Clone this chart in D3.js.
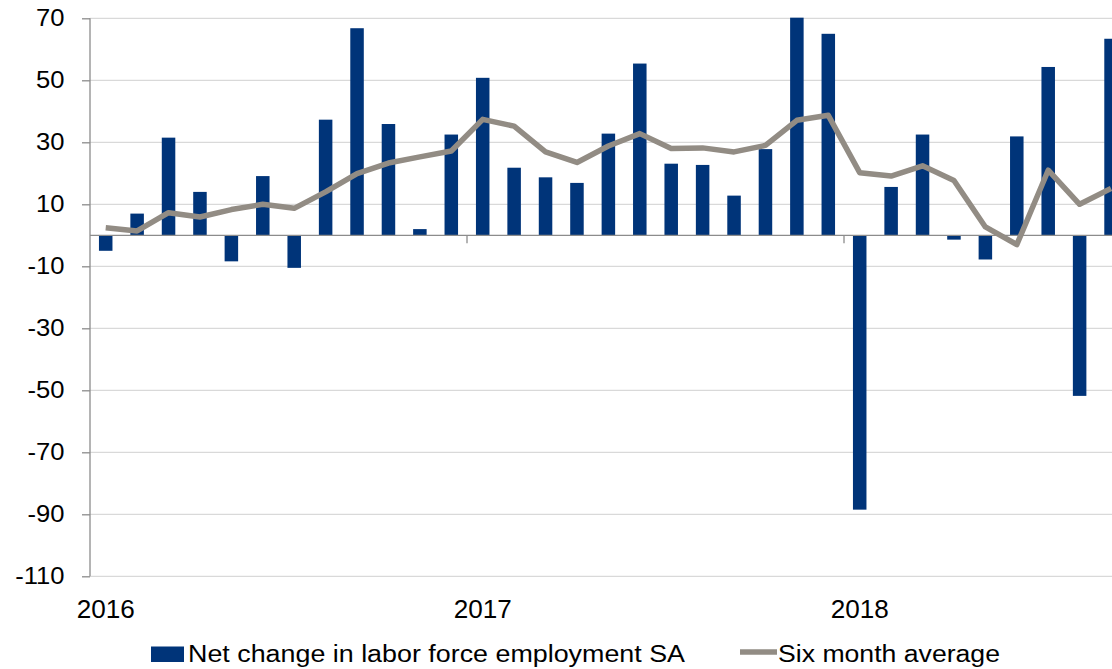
<!DOCTYPE html>
<html>
<head>
<meta charset="utf-8">
<script src="https://cdn.jsdelivr.net/npm/d3@7"></script>
<style>
	body { margin: 0; background: #fff; }
	svg { display: block; font-family: "Liberation Sans", Arial, sans-serif; }
</style>
</head>
<body>
<div id="main"></div>
<script>
// months Jan 2016 .. Sep 2018
var months = d3.timeMonths(new Date(2016, 0, 1), new Date(2018, 9, 1));

var net_change = [-5, 7, 31.5, 14, -8.4, 19.1, -10.5, 37.3, 66.8, 35.9, 2, 32.5,
	50.8, 21.8, 18.7, 16.9, 32.8, 55.4, 23.1, 22.7, 12.8, 27.8, 70.2, 65,
	-88.5, 15.6, 32.5, -1.4, -7.8, 31.9, 54.3, -51.8, 63.4];

var six_month_avg = [2.4, 1.4, 7.3, 5.9, 8.3, 10, 8.7, 14, 19.9, 23.3, 25.3, 27.2,
	37.4, 35.2, 26.9, 23.5, 28.8, 32.8, 28, 28.2, 26.9, 29, 37.1, 38.7,
	20.2, 19.1, 22.4, 17.7, 2.7, -3, 21, 10, 15.1];

var y_ticks = [70, 50, 30, 10, -10, -30, -50, -70, -90, -110];
var year_ticks = [new Date(2016, 0, 1), new Date(2017, 0, 1), new Date(2018, 0, 1)];

var series_names = ["Net change in labor force employment SA", "Six month average"];

var width = 1112, height = 669;
var margin = {left: 90, top: 18.3};
var month_w = 377 / 12;

var svg = d3.select("#main").append("svg")
	.attr("width", width).attr("height", height);

var x = d3.scaleBand()
	.domain(months.map(function (d) { return +d; }))
	.range([margin.left, margin.left + month_w * months.length])
	.paddingInner(0.57).paddingOuter(0.285);

var y = d3.scaleLinear().domain([-110, 70]).range([576.3, margin.top]);

function cx(d) { return x(+d) + x.bandwidth() / 2; }

// gridlines
svg.append("g").selectAll("line")
	.data(y_ticks).enter().append("line")
	.attr("x1", margin.left).attr("x2", width)
	.attr("y1", function (d) { return y(d); }).attr("y2", function (d) { return y(d); })
	.attr("stroke", "#d9d9d9").attr("stroke-width", 1.3);

// y axis
var y_axis = svg.append("g")
	.attr("transform", "translate(" + margin.left + ",0)")
	.call(d3.axisLeft(y).tickValues(y_ticks).tickSize(8).tickPadding(0)
		.tickFormat(function (d) { return String(d); }));
y_axis.select(".domain").attr("stroke", "#8c8c8c").attr("stroke-width", 1.3)
	.attr("d", "M0," + y(-110) + "V" + y(70));
y_axis.selectAll(".tick line").attr("stroke", "#8c8c8c").attr("stroke-width", 1.3);
y_axis.selectAll(".tick text")
	.attr("font-size", 23.5).attr("fill", "#000")
	.attr("font-family", "Liberation Sans, Arial, sans-serif")
	.attr("x", -25.5 / 1.09)
	.attr("transform", "scale(1.09,1)");

// bars
svg.append("g").selectAll("rect")
	.data(months).enter().append("rect")
	.attr("x", function (d) { return x(+d); })
	.attr("width", x.bandwidth())
	.attr("y", function (d, i) { return y(Math.max(0, net_change[i])); })
	.attr("height", function (d, i) { return Math.abs(y(net_change[i]) - y(0)); })
	.attr("fill", "#003479");

// zero line with year ticks
svg.append("line")
	.attr("x1", margin.left).attr("x2", width)
	.attr("y1", y(0)).attr("y2", y(0))
	.attr("stroke", "#8c8c8c").attr("stroke-width", 1.3);

svg.append("g").selectAll("line")
	.data(year_ticks.slice(1)).enter().append("line")
	.attr("x1", function (d) { return x(+d) - x.step() * x.paddingInner() / 2; })
	.attr("x2", function (d) { return x(+d) - x.step() * x.paddingInner() / 2; })
	.attr("y1", y(0)).attr("y2", y(0) + 8)
	.attr("stroke", "#8c8c8c").attr("stroke-width", 1.3);

// six month average line
var line = d3.line()
	.x(function (d) { return cx(d); })
	.y(function (d, i) { return y(six_month_avg[i]); });

svg.append("path")
	.datum(months)
	.attr("d", line)
	.attr("fill", "none")
	.attr("stroke", "#928c84")
	.attr("stroke-width", 5.5)
	.attr("stroke-linejoin", "round");

// year labels
svg.append("g").selectAll("text")
	.data(year_ticks).enter().append("text")
	.attr("transform", function (d) { return "translate(" + cx(d) + ",618) scale(1.045,1)"; })
	.attr("text-anchor", "middle")
	.attr("font-size", 25)
	.text(function (d) { return d.getFullYear(); });

// legend
var legend = svg.append("g");
legend.append("rect")
	.attr("x", 151).attr("y", 646.5).attr("width", 33).attr("height", 15.5)
	.attr("fill", "#003479");
legend.append("text")
	.attr("x", 188).attr("y", 662).attr("font-size", 23)
	.attr("textLength", 497).attr("lengthAdjust", "spacingAndGlyphs")
	.text(series_names[0]);
legend.append("line")
	.attr("x1", 740).attr("x2", 777).attr("y1", 652).attr("y2", 652)
	.attr("stroke", "#928c84").attr("stroke-width", 5.5);
legend.append("text")
	.attr("x", 778).attr("y", 662).attr("font-size", 23)
	.attr("textLength", 222).attr("lengthAdjust", "spacingAndGlyphs")
	.text(series_names[1]);
</script>
</body>
</html>
